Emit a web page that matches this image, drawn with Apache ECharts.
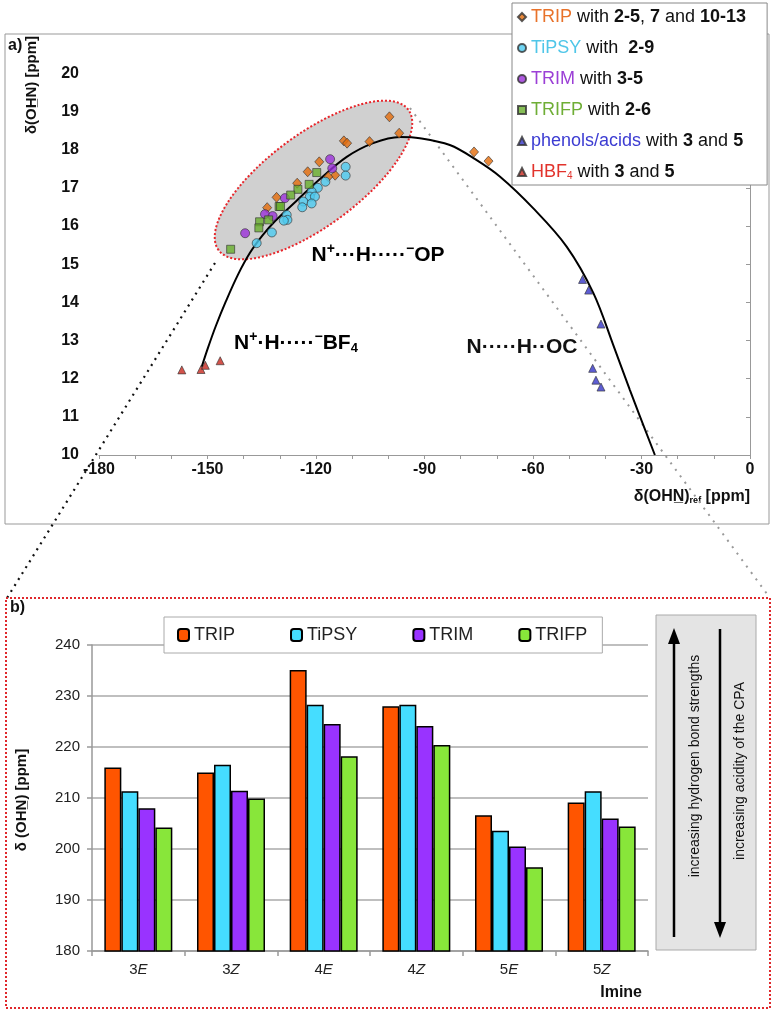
<!DOCTYPE html>
<html><head><meta charset="utf-8">
<script src="https://cdn.jsdelivr.net/npm/echarts@6/dist/echarts.min.js"></script>
<style>html,body{margin:0;padding:0;background:#fff}#c{width:774px;height:1013px}</style>
</head><body><div id="c"></div>
<script>
// ---- panel a data: [δ(OHN)ref, δ(OHN)] ----
const tripPts = [[-99.7,18.86],[-97.0,18.43],[-105.2,18.21],[-112.3,18.23],[-111.4,18.17],[-76.3,17.94],[-72.3,17.70],[-119.1,17.68],[-122.3,17.42],[-114.7,17.33],[-116.6,17.29],[-125.2,17.12],[-130.9,16.75],[-133.5,16.48]];
const tipsyPts = [[-111.8,17.55],[-111.8,17.32],[-117.4,17.16],[-119.5,17.00],[-121.2,16.90],[-121.7,16.77],[-120.3,16.77],[-123.5,16.64],[-121.2,16.59],[-123.8,16.49],[-128.1,16.29],[-127.9,16.16],[-128.9,16.14],[-132.2,15.83],[-136.4,15.55]];
const trimPts = [[-116.1,17.75],[-115.5,17.51],[-128.6,16.73],[-134.1,16.31],[-132.0,16.26],[-139.6,15.81]];
const trifpPts = [[-119.8,17.40],[-121.9,17.09],[-125.0,16.96],[-127.0,16.81],[-130.2,16.51],[-129.8,16.51],[-133.1,16.16],[-135.6,16.11],[-135.8,15.95],[-143.6,15.39]];
const phenolPts = [[-46.3,14.60],[-44.6,14.32],[-41.2,13.43],[-43.5,12.27],[-42.6,11.96],[-41.2,11.78]];
const hbfPts = [[-157.1,12.23],[-151.8,12.24],[-150.6,12.35],[-146.5,12.47]];
const curvePts = [[-151.6,12.31],[-149.9,12.80],[-147.7,13.38],[-144.9,14.03],[-141.6,14.72],[-138.3,15.29],[-134.9,15.74],[-131.3,16.13],[-125.5,16.65],[-118.9,17.23],[-111.5,17.81],[-104.2,18.17],[-96.8,18.33],[-91.3,18.30],[-83.0,18.12],[-76.0,17.75],[-69.1,17.29],[-59.9,16.46],[-50.7,15.46],[-43.3,14.24],[-37.8,12.88],[-33.2,11.70],[-26.3,10.0]];
// ---- panel b data ----
const imines = ['3E','3Z','4E','4Z','5E','5Z'];
const tripBars  = [216.0,215.0,235.1,228.0,206.6,209.1];
const tipsyBars = [211.3,216.5,228.3,228.3,203.6,211.3];
const trimBars  = [208.0,211.4,224.5,224.1,200.5,206.0];
const trifpBars = [204.2,209.9,218.2,220.4,196.4,204.4];

const F = 'Liberation Sans, Arial, sans-serif';
const chart = echarts.init(document.getElementById('c'));
const mk = (name, data, symbol, size, color) => ({
  name, type:'scatter', xAxisIndex:0, yAxisIndex:0, data, symbol, symbolSize:size,
  itemStyle:{color, borderColor:'#333', borderWidth:0.8}, z:3
});
const legRich = {
  trip:{color:'#E8722A',fontSize:18,fontFamily:F},
  tipsy:{color:'#4FC6E8',fontSize:18,fontFamily:F},
  trim:{color:'#9B3FD6',fontSize:18,fontFamily:F},
  trifp:{color:'#6FAE36',fontSize:18,fontFamily:F},
  phen:{color:'#3C3CD2',fontSize:18,fontFamily:F},
  hbf:{color:'#E2332C',fontSize:18,fontFamily:F},
  hsub:{color:'#E2332C',fontSize:10,fontFamily:F,padding:[9,0,0,0]},
  n:{color:'#111',fontSize:18,fontFamily:F},
  b:{color:'#111',fontSize:18,fontFamily:F,fontWeight:'bold'}
};
const legFmt = {
  'TRIP':'{trip|TRIP}{n| with }{b|2-5}{n|, }{b|7}{n| and }{b|10-13}',
  'TiPSY':'{tipsy|TiPSY}{n| with  }{b|2-9}',
  'TRIM':'{trim|TRIM}{n| with }{b|3-5}',
  'TRIFP':'{trifp|TRIFP}{n| with }{b|2-6}',
  'phenols/acids':'{phen|phenols/acids}{n| with }{b|3}{n| and }{b|5}',
  'HBF4':'{hbf|HBF}{hsub|4}{n| with }{b|3}{n| and }{b|5}'
};
const legBSpaces = {'TRIP':7,'TiPSY':7,'TRIM':5,'TRIFP':3};
const axA = {color:'#111',fontWeight:'bold',fontSize:16,fontFamily:F};
const option = {
  animation:false,
  grid:[{left:99,top:73.3,width:651,height:381.7},{left:92,top:645,width:556,height:306}],
  xAxis:[
    {gridIndex:0,type:'value',min:-180,max:0,interval:30,
     axisLine:{show:true,onZero:false,lineStyle:{color:'#999'}},
     axisTick:{show:true,length:4,lineStyle:{color:'#999'}},
     minorTick:{show:true,splitNumber:3,length:4,lineStyle:{color:'#999'}},
     splitLine:{show:false},axisLabel:Object.assign({margin:7},axA)},
    {gridIndex:1,type:'category',data:imines,
     axisLine:{lineStyle:{color:'#999',width:1.5}},
     axisTick:{show:true,length:5,lineStyle:{color:'#999',width:1.5}},
     axisLabel:{margin:11,formatter:v=>'{n|'+v[0]+'}{i|'+v.slice(1)+'}',
       rich:{n:{fontSize:15,color:'#222',fontFamily:F},i:{fontSize:15,color:'#222',fontFamily:F,fontStyle:'italic'}}}}
  ],
  yAxis:[
    {gridIndex:0,type:'value',min:10,max:20,interval:1,
     axisLine:{show:true,lineStyle:{color:'#999'}},
     axisTick:{show:true,length:4,lineStyle:{color:'#999'}},
     splitLine:{show:false},axisLabel:Object.assign({margin:20},axA)},
    {gridIndex:1,type:'value',min:180,max:240,interval:10,
     axisLine:{show:true,lineStyle:{color:'#999',width:1.5}},
     axisTick:{show:true,length:5,lineStyle:{color:'#999',width:1.5}},
     splitLine:{show:true,lineStyle:{color:'#aaa',width:1.5}},
     axisLabel:{margin:12,fontSize:15,color:'#222',fontFamily:F}}
  ],
  legend:[
    {data:['TRIP','TiPSY','TRIM','TRIFP','phenols/acids','HBF4'],orient:'vertical',left:512,top:3,
     backgroundColor:'#fff',borderColor:'#888',borderWidth:1,padding:[4,21,3,5],
     itemWidth:8,itemHeight:8,itemGap:11,itemTextGap:6,
     formatter:n=>legFmt[n],textStyle:{lineHeight:20,rich:legRich}},
    {data:['TRIP ','TiPSY ','TRIM ','TRIFP '],orient:'horizontal',left:164,top:617,
     backgroundColor:'#fff',borderColor:'#aaa',borderWidth:1,padding:[9,0,9,13],
     itemWidth:11,itemHeight:12,itemGap:20,itemTextGap:5,
     formatter:n=>n.trim()+'\u00a0'.repeat(legBSpaces[n.trim()]),
     textStyle:{fontSize:18,color:'#222',fontFamily:F}}
  ],
  series:[
    {name:'curve',type:'line',xAxisIndex:0,yAxisIndex:0,data:curvePts,smooth:0.35,showSymbol:false,
     lineStyle:{color:'#000',width:2},z:2,silent:true},
    mk('TRIP',tripPts,'diamond',[9,10],'#E36C0A'),
    mk('TiPSY',tipsyPts,'circle',9,'#4CCBF0'),
    mk('TRIM',trimPts,'circle',9,'#9A30D8'),
    mk('TRIFP',trifpPts,'rect',8,'#68AE2C'),
    mk('phenols/acids',phenolPts,'triangle',8,'#3434C8'),
    mk('HBF4',hbfPts,'triangle',8,'#C8281E'),
    ...[['TRIP ',tripBars,'#FF5500'],['TiPSY ',tipsyBars,'#45DDFF'],['TRIM ',trimBars,'#9933FF'],['TRIFP ',trifpBars,'#88E63A']].map(([n,d,c])=>({
      name:n,type:'bar',xAxisIndex:1,yAxisIndex:1,data:d,barWidth:17,barGap:'0%',
      itemStyle:{color:c,borderColor:'#000',borderWidth:1.5}}))
  ],
  graphic:[
    {type:'rect',z:-5,shape:{x:5,y:34,width:764,height:490},style:{fill:null,stroke:'#999',lineWidth:1}},
    {type:'ellipse',z:0,x:313.5,y:180,rotation:0.637,shape:{cx:0,cy:0,rx:118,ry:46},
     style:{fill:'#D0D0D0',stroke:'#E8262B',lineWidth:2,lineDash:[2,2]}},
    {type:'line',z:1,shape:{x1:215,y1:263,x2:7,y2:598},style:{stroke:'#111',lineWidth:2.2,lineDash:[2,5]}},
    {type:'line',z:1,shape:{x1:410,y1:108,x2:770,y2:598},style:{stroke:'#999',lineWidth:2,lineDash:[2,6]}},
    {type:'rect',z:1,shape:{x:6,y:598,width:764,height:410},style:{fill:null,stroke:'#E0282C',lineWidth:2,lineDash:[2,2]}},
    {type:'text',x:8,y:38,style:{text:'a)',font:'bold 16px '+F,fill:'#111'}},
    {type:'text',x:10,y:600,style:{text:'b)',font:'bold 16px '+F,fill:'#111'}},
    {type:'text',x:32,y:85,rotation:Math.PI/2,style:{text:'δ(OH\u0332N) [ppm]',font:'bold 15px '+F,fill:'#111',align:'center',verticalAlign:'middle'}},
    {type:'text',x:22,y:800,rotation:Math.PI/2,style:{text:'δ (OHN\u0332) [ppm]',font:'bold 15px '+F,fill:'#111',align:'center',verticalAlign:'middle'}},
    {type:'text',x:750,y:497,style:{text:'{b|δ(OHN\u0332)}{s|ref}{b| [ppm]}',align:'right',verticalAlign:'middle',
      rich:{b:{font:'bold 16px '+F,fill:'#111',color:'#111'},s:{fontSize:9,fontWeight:'bold',fontFamily:F,color:'#111',padding:[8,0,0,0]}}}},
    {type:'text',x:378,y:255,style:{text:'{b|N}{p|+}{b|···H·····}{p|−}{b|OP}',align:'center',verticalAlign:'middle',
      rich:{b:{fontSize:21,fontWeight:'bold',fontFamily:F,color:'#111'},p:{fontSize:14,fontWeight:'bold',fontFamily:F,color:'#111',padding:[0,0,12,0]}}}},
    {type:'text',x:296,y:343,style:{text:'{b|N}{p|+}{b|·H·····}{p|−}{b|BF}{s|4}',align:'center',verticalAlign:'middle',
      rich:{b:{fontSize:21,fontWeight:'bold',fontFamily:F,color:'#111'},p:{fontSize:14,fontWeight:'bold',fontFamily:F,color:'#111',padding:[0,0,12,0]},
            s:{fontSize:13,fontWeight:'bold',fontFamily:F,color:'#111',padding:[10,0,0,0]}}}},
    {type:'text',x:522,y:347,style:{text:'N·····H··OC',font:'bold 21px '+F,fill:'#111',align:'center',verticalAlign:'middle'}},
    {type:'text',x:642,y:993,style:{text:'Imine',font:'bold 16px '+F,fill:'#111',align:'right',verticalAlign:'middle'}},
    {type:'rect',z:1,shape:{x:656,y:615,width:100,height:335},style:{fill:'#E4E4E4',stroke:'#AAA',lineWidth:1}},
    {type:'line',z:2,shape:{x1:674,y1:937,x2:674,y2:640},style:{stroke:'#000',lineWidth:2.5}},
    {type:'polygon',z:2,shape:{points:[[674,628],[668,644],[680,644]]},style:{fill:'#000'}},
    {type:'line',z:2,shape:{x1:720,y1:629,x2:720,y2:925},style:{stroke:'#000',lineWidth:2.5}},
    {type:'polygon',z:2,shape:{points:[[720,938],[714,922],[726,922]]},style:{fill:'#000'}},
    {type:'text',z:3,x:695,y:766,rotation:Math.PI/2,style:{text:'increasing hydrogen bond strengths',font:'14px '+F,fill:'#111',align:'center',verticalAlign:'middle'}},
    {type:'text',z:3,x:740,y:771,rotation:Math.PI/2,style:{text:'increasing acidity of the CPA',font:'14px '+F,fill:'#111',align:'center',verticalAlign:'middle'}}
  ]
};
chart.setOption(option);
</script></body></html>
